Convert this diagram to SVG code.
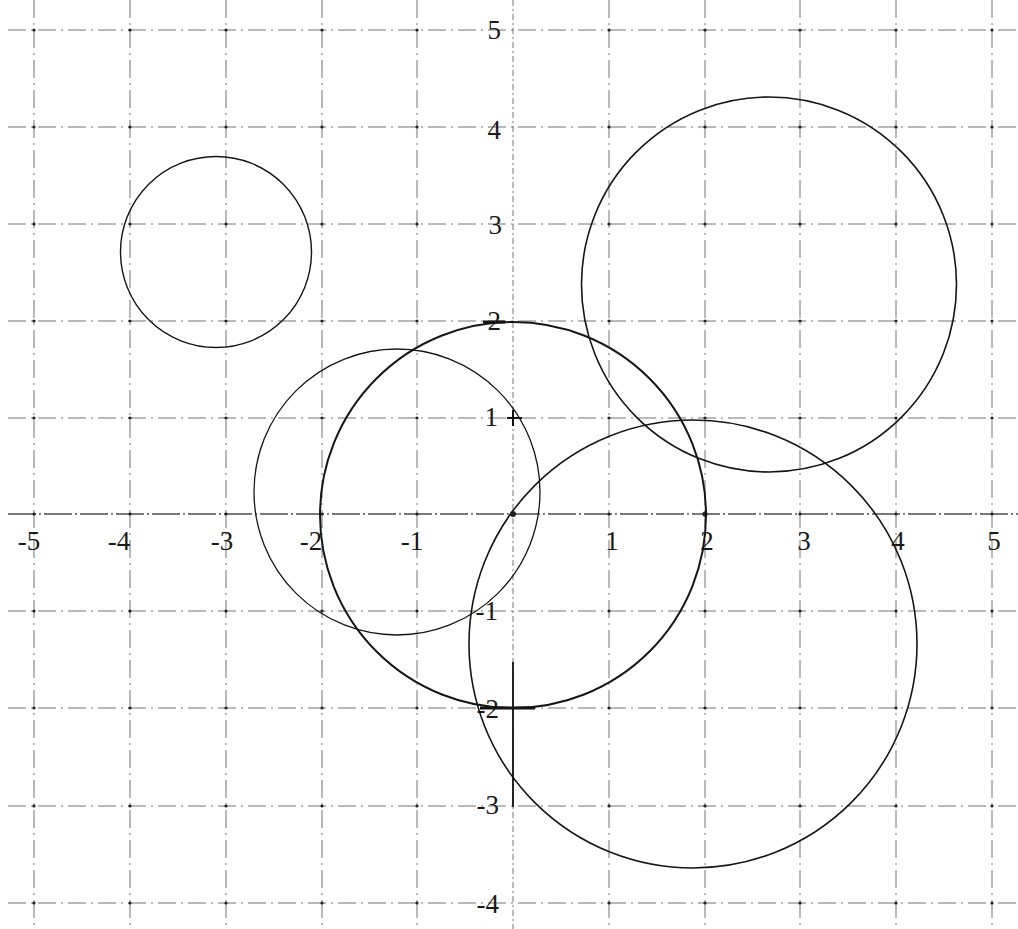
<svg xmlns="http://www.w3.org/2000/svg" width="1018" height="929" viewBox="0 0 1018 929">
<style>
.g{stroke:#3a3a3a;stroke-width:1;stroke-dasharray:18 5 2 5;fill:none;opacity:0.7}
.d{fill:#222}
.c{fill:none;stroke:#161616;stroke-width:1.6}
.t{font-family:"Liberation Serif","DejaVu Serif",serif;font-size:27px;fill:#1a1a1a}
.xl{text-anchor:middle}
.yl{text-anchor:end}
</style>
<rect width="1018" height="929" fill="#ffffff"/>
<g id="grid">
<path class="g" d="M34 0V929M130 0V929M226 0V929M322 0V929M417 0V929M609 0V929M705 0V929M800 0V929M896 0V929M992 0V929"/>
<path class="g" d="M513 0V929" style="stroke-dasharray:6 3 2 3"/>
<path class="g" d="M8 30H1018M8 127H1018M8 224H1018M8 321H1018M8 418H1018M8 611H1018M8 708H1018M8 806H1018M8 903H1018"/>
<path class="g" d="M8 514H1018" style="stroke-dasharray:28 3 2 3;stroke-width:1.3;opacity:0.9"/>
<g class="d">
<circle cx="34" cy="30" r="1.6"/><circle cx="130" cy="30" r="1.6"/><circle cx="226" cy="30" r="1.6"/><circle cx="322" cy="30" r="1.6"/><circle cx="417" cy="30" r="1.6"/><circle cx="609" cy="30" r="1.6"/><circle cx="705" cy="30" r="1.6"/><circle cx="800" cy="30" r="1.6"/><circle cx="896" cy="30" r="1.6"/><circle cx="992" cy="30" r="1.6"/>
<circle cx="34" cy="127" r="1.6"/><circle cx="130" cy="127" r="1.6"/><circle cx="226" cy="127" r="1.6"/><circle cx="322" cy="127" r="1.6"/><circle cx="417" cy="127" r="1.6"/><circle cx="609" cy="127" r="1.6"/><circle cx="705" cy="127" r="1.6"/><circle cx="800" cy="127" r="1.6"/><circle cx="896" cy="127" r="1.6"/><circle cx="992" cy="127" r="1.6"/>
<circle cx="34" cy="224" r="1.6"/><circle cx="130" cy="224" r="1.6"/><circle cx="226" cy="224" r="1.6"/><circle cx="322" cy="224" r="1.6"/><circle cx="417" cy="224" r="1.6"/><circle cx="609" cy="224" r="1.6"/><circle cx="705" cy="224" r="1.6"/><circle cx="800" cy="224" r="1.6"/><circle cx="896" cy="224" r="1.6"/><circle cx="992" cy="224" r="1.6"/>
<circle cx="34" cy="321" r="1.6"/><circle cx="130" cy="321" r="1.6"/><circle cx="226" cy="321" r="1.6"/><circle cx="322" cy="321" r="1.6"/><circle cx="417" cy="321" r="1.6"/><circle cx="609" cy="321" r="1.6"/><circle cx="705" cy="321" r="1.6"/><circle cx="800" cy="321" r="1.6"/><circle cx="896" cy="321" r="1.6"/><circle cx="992" cy="321" r="1.6"/>
<circle cx="34" cy="418" r="1.6"/><circle cx="130" cy="418" r="1.6"/><circle cx="226" cy="418" r="1.6"/><circle cx="322" cy="418" r="1.6"/><circle cx="417" cy="418" r="1.6"/><circle cx="609" cy="418" r="1.6"/><circle cx="705" cy="418" r="1.6"/><circle cx="800" cy="418" r="1.6"/><circle cx="896" cy="418" r="1.6"/><circle cx="992" cy="418" r="1.6"/>
<circle cx="34" cy="514" r="1.6"/><circle cx="130" cy="514" r="1.6"/><circle cx="226" cy="514" r="1.6"/><circle cx="322" cy="514" r="1.6"/><circle cx="417" cy="514" r="1.6"/><circle cx="513" cy="514" r="3"/><circle cx="609" cy="514" r="1.6"/><circle cx="705" cy="514" r="2.6"/><circle cx="800" cy="514" r="1.6"/><circle cx="896" cy="514" r="1.6"/><circle cx="992" cy="514" r="1.6"/>
<circle cx="34" cy="611" r="1.6"/><circle cx="130" cy="611" r="1.6"/><circle cx="226" cy="611" r="1.6"/><circle cx="322" cy="611" r="1.6"/><circle cx="417" cy="611" r="1.6"/><circle cx="609" cy="611" r="1.6"/><circle cx="705" cy="611" r="1.6"/><circle cx="800" cy="611" r="1.6"/><circle cx="896" cy="611" r="1.6"/><circle cx="992" cy="611" r="1.6"/>
<circle cx="34" cy="708" r="1.6"/><circle cx="130" cy="708" r="1.6"/><circle cx="226" cy="708" r="1.6"/><circle cx="322" cy="708" r="1.6"/><circle cx="417" cy="708" r="1.6"/><circle cx="609" cy="708" r="1.6"/><circle cx="705" cy="708" r="1.6"/><circle cx="800" cy="708" r="1.6"/><circle cx="896" cy="708" r="1.6"/><circle cx="992" cy="708" r="1.6"/>
<circle cx="34" cy="806" r="1.6"/><circle cx="130" cy="806" r="1.6"/><circle cx="226" cy="806" r="1.6"/><circle cx="322" cy="806" r="1.6"/><circle cx="417" cy="806" r="1.6"/><circle cx="609" cy="806" r="1.6"/><circle cx="705" cy="806" r="1.6"/><circle cx="800" cy="806" r="1.6"/><circle cx="896" cy="806" r="1.6"/><circle cx="992" cy="806" r="1.6"/>
<circle cx="34" cy="903" r="1.6"/><circle cx="130" cy="903" r="1.6"/><circle cx="226" cy="903" r="1.6"/><circle cx="322" cy="903" r="1.6"/><circle cx="417" cy="903" r="1.6"/><circle cx="609" cy="903" r="1.6"/><circle cx="705" cy="903" r="1.6"/><circle cx="800" cy="903" r="1.6"/><circle cx="896" cy="903" r="1.6"/><circle cx="992" cy="903" r="1.6"/>
</g>
<path d="M513 662V807" stroke="#111" stroke-width="1.8" fill="none"/>
<path d="M480 708H535" stroke="#111" stroke-width="3" fill="none"/>
<path d="M483 322H505" stroke="#111" stroke-width="3" fill="none"/>
<path d="M507 418H522M513 410V426" stroke="#111" stroke-width="2" fill="none"/>
</g>
<g id="labels">
<text class="t xl" x="29" y="550">-5</text>
<text class="t xl" x="119" y="550">-4</text>
<text class="t xl" x="222" y="550">-3</text>
<text class="t xl" x="311" y="550">-2</text>
<text class="t xl" x="412" y="550">-1</text>
<text class="t xl" x="612" y="550">1</text>
<text class="t xl" x="707" y="550">2</text>
<text class="t xl" x="804" y="550">3</text>
<text class="t xl" x="898" y="550">4</text>
<text class="t xl" x="994" y="550">5</text>
<text class="t yl" x="501" y="39">5</text>
<text class="t yl" x="501" y="139">4</text>
<text class="t yl" x="502" y="234">3</text>
<text class="t yl" x="501" y="330">2</text>
<text class="t yl" x="498" y="426">1</text>
<text class="t yl" x="498" y="620">-1</text>
<text class="t yl" x="499" y="718">-2</text>
<text class="t yl" x="499" y="814">-3</text>
<text class="t yl" x="499" y="913">-4</text>
</g>
<g id="circle-small"><circle class="c" cx="216" cy="252" r="95.5" style="stroke-width:1.4"/></g>
<g id="circle-left"><circle class="c" cx="397" cy="492" r="143" style="stroke-width:1.3"/></g>
<g id="circle-origin"><circle class="c" cx="513" cy="515" r="193" style="stroke-width:2"/></g>
<g id="circle-top-right"><circle class="c" cx="769" cy="284.5" r="187.5"/></g>
<g id="circle-bottom-right"><circle class="c" cx="693" cy="644" r="224"/></g>
</svg>
